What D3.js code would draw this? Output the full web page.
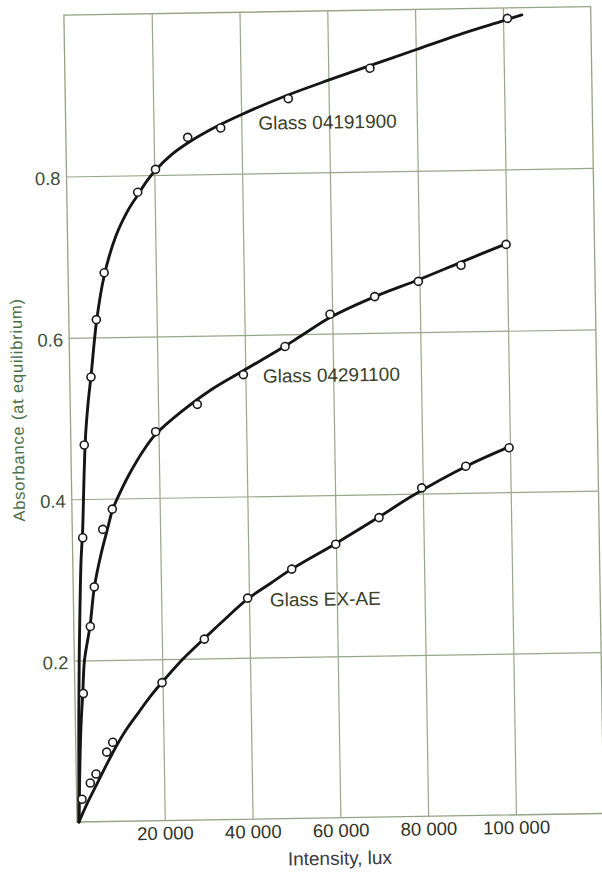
<!DOCTYPE html>
<html>
<head>
<meta charset="utf-8">
<title>Absorbance vs intensity</title>
<style>
  body { margin: 0; background: #fff; }
  svg { display: block; }
  .grid line { stroke: #9aa689; stroke-width: 1.2; }
  .frame { fill: none; stroke: #95a283; stroke-width: 1.3; }
  .ytick text { fill: #3e5036; font: 18.5px "Liberation Sans", Arial, sans-serif; }
  .xtick text { fill: #2e3326; font: 18.5px "Liberation Sans", Arial, sans-serif; }
  .curve { fill: none; stroke: #151515; stroke-width: 2.9; stroke-linecap: round; }
  .pt { fill: #fff; stroke: #1a1a1a; stroke-width: 1.6; }
  .series-label { fill: #3a3f2a; font: 19px "Liberation Sans", Arial, sans-serif; }
  .xtitle { fill: #3b3b3b; font: 19px "Liberation Sans", Arial, sans-serif; }
  .ytitle { fill: #4b7048; font: 16.5px "Liberation Sans", Arial, sans-serif; letter-spacing: 0.8px; }
</style>
</head>
<body>
<div id="chart"></div>
<script src="https://cdn.jsdelivr.net/npm/d3@7"></script>
<script>

// axis ticks
var xTicks = [20000, 40000, 60000, 80000, 100000];
var yTicks = [0.2, 0.4, 0.6, 0.8];

var seriesNames = ["Glass 04191900", "Glass 04291100", "Glass EX-AE"];

// measured points (intensity lux, absorbance)
var pts04191900 = [[2350,0.352],[3050,0.467],[4830,0.551],[6260,0.622],[8220,0.680],[16150,0.779],
  [20300,0.807],[27750,0.846],[35300,0.857],[50800,0.892],[69500,0.928],[101000,0.987]];
var pts04291100 = [[1910,0.159],[3750,0.242],[4810,0.291],[6950,0.362],[9200,0.387],[19360,0.482],
  [28950,0.515],[39550,0.551],[49140,0.585],[59500,0.624],[69750,0.645],[79750,0.663],[89520,0.682],[99860,0.707]];
var ptsEXAE = [[1220,0.028],[3170,0.048],[4510,0.059],[7020,0.086],[8430,0.098],[19890,0.171],
  [29680,0.224],[39700,0.274],[49840,0.309],[59960,0.339],[69910,0.371],[79750,0.407],[89870,0.433],[99800,0.455]];

// hand-drawn fitted curves
var fit04191900 = [[450,0],[600,0.06],[800,0.13],[1100,0.2],[1500,0.27],[1900,0.325],[2350,0.36],[2900,0.43],
  [3400,0.48],[4100,0.52],[4900,0.555],[6300,0.62],[8200,0.676],[11000,0.725],[14000,0.758],[16200,0.776],
  [18300,0.793],[20300,0.806],[24000,0.825],[28000,0.84],[34000,0.858],[40000,0.873],[50000,0.895],
  [60000,0.914],[70000,0.932],[80000,0.95],[90000,0.968],[100000,0.984],[104300,0.991]];
var fit04291100 = [[450,0],[800,0.06],[1250,0.118],[1800,0.16],[2300,0.2],[3700,0.243],[4800,0.29],
  [6400,0.33],[8000,0.362],[9300,0.387],[10200,0.398],[13000,0.428],[16900,0.462],[19400,0.479],
  [25000,0.505],[31900,0.532],[39600,0.556],[49000,0.585],[52600,0.597],[59500,0.62],[69800,0.645],
  [79800,0.665],[89600,0.686],[100000,0.708]];
var fitEXAE = [[450,0],[2500,0.024],[4600,0.046],[7000,0.071],[9000,0.091],[11500,0.113],[14500,0.135],
  [17000,0.153],[20000,0.172],[24400,0.198],[29700,0.225],[35000,0.251],[39700,0.273],[45000,0.292],
  [49800,0.309],[60000,0.34],[70000,0.372],[77800,0.398],[90000,0.433],[99800,0.456]];

var width = 526.8, height = 807;

var svg = d3.select("#chart").append("svg")
  .attr("width", 602)
  .attr("height", 872);

// the original scan is tilted slightly, so the whole plot is rotated a little
var g = svg.append("g")
  .attr("transform", "translate(77,822) rotate(-0.93) translate(0," + (-height) + ")");

var x = d3.scaleLinear().domain([0, 120000]).range([0, width]);
var y = d3.scaleLinear().domain([0, 1]).range([height, 0]);

var fmtLux = function(d) { return d3.format(",")(d).replace(/,/g, " "); };

g.append("g")
  .attr("class", "grid xtick")
  .attr("transform", "translate(0," + height + ")")
  .call(d3.axisBottom(x).tickValues(xTicks).tickSize(-height).tickPadding(6).tickFormat(fmtLux));

var yAxis = g.append("g")
  .attr("class", "grid ytick")
  .call(d3.axisLeft(y).tickValues(yTicks).tickSize(-width).tickPadding(6).tickFormat(d3.format(".1f")));

yAxis.selectAll("text").attr("dy", "0.42em");
g.selectAll(".domain").remove();

g.append("rect")
  .attr("class", "frame")
  .attr("x", 0).attr("y", 0)
  .attr("width", width).attr("height", height);

var line = d3.line()
  .x(function(d) { return x(d[0]); })
  .y(function(d) { return y(d[1]); })
  .curve(d3.curveCatmullRom.alpha(0.5));

var series = [
  { name: seriesNames[0], fit: fit04191900, pts: pts04191900, label: [43900, 0.854] },
  { name: seriesNames[1], fit: fit04291100, pts: pts04291100, label: [44000, 0.5405] },
  { name: seriesNames[2], fit: fitEXAE, pts: ptsEXAE, label: [44760, 0.263] }
];

series.forEach(function(s) {
  g.append("path")
    .datum(s.fit)
    .attr("class", "curve")
    .attr("d", line);
});

series.forEach(function(s) {
  g.selectAll(null)
    .data(s.pts)
    .enter()
    .append("circle")
    .attr("class", "pt")
    .attr("cx", function(d) { return x(d[0]); })
    .attr("cy", function(d) { return y(d[1]); })
    .attr("r", 4);

  g.append("text")
    .attr("class", "series-label")
    .attr("x", x(s.label[0]))
    .attr("y", y(s.label[1]))
    .text(s.name);
});

g.append("text")
  .attr("class", "xtitle")
  .attr("x", x(59750))
  .attr("y", height + 47)
  .attr("text-anchor", "middle")
  .text("Intensity, lux");

g.append("text")
  .attr("class", "ytitle")
  .attr("transform", "translate(-47," + (height - 413) + ") rotate(-90)")
  .attr("text-anchor", "middle")
  .text("Absorbance (at equilibrium)");

</script>
</body>
</html>
